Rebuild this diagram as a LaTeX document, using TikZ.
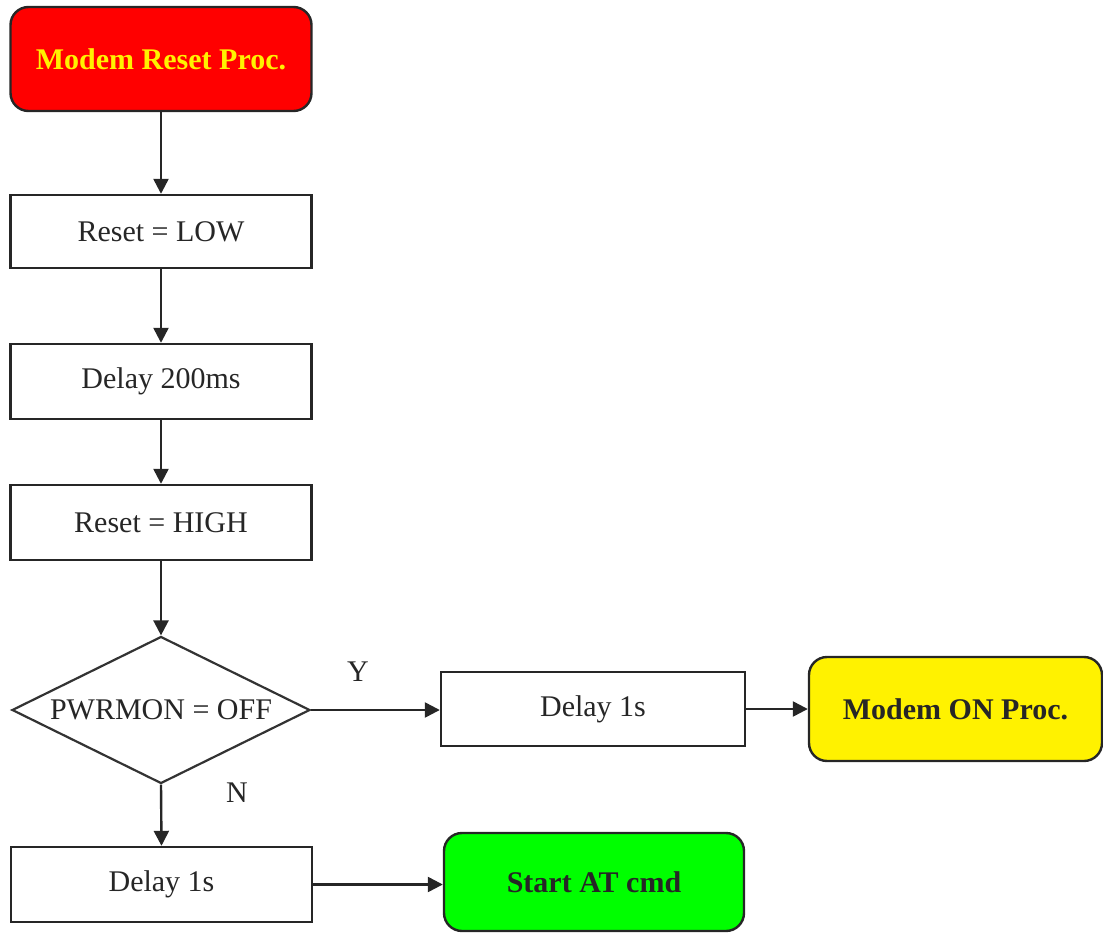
\documentclass[tikz,border=0pt]{standalone}
\usepackage{fontspec}
\setmainfont{Liberation Serif}
\usetikzlibrary{shapes.geometric,arrows.meta}
\begin{document}
\begin{tikzpicture}[x=1pt,y=-1pt,
  box/.style={draw=black!85,line width=2.4pt,rectangle,inner sep=0pt,font=\fontsize{30}{34}\selectfont,text=black!85},
  term/.style={box,rounded corners=18pt,font=\fontsize{30}{34}\selectfont\bfseries},
  dec/.style={draw=black!80,line width=2.2pt,diamond,inner sep=0pt,minimum width=298pt,minimum height=147pt},
  arr/.style={draw=black!85,line width=2.4pt,-{Triangle[length=15pt,width=15pt]}},
  lbl/.style={font=\fontsize{30}{34}\selectfont,text=black!85}]
\useasboundingbox (0,0) rectangle (1103,933);
\node[term,fill=red,text=yellow,minimum width=301pt,minimum height=104pt] (start) at (161,59) {Modem Reset Proc.};
\node[box,minimum width=301pt,minimum height=73pt] (low) at (161,231.5) {Reset = LOW};
\node[box,minimum width=301pt,minimum height=75pt] (d200) at (161,381.5) {Delay 200ms};
\node[box,minimum width=301pt,minimum height=75pt] (high) at (161,522.5) {Reset = HIGH};
\node[dec,label={[lbl]center:PWRMON = OFF}] (q) at (161,710) {};
\node[box,minimum width=304pt,minimum height=74pt] (dr) at (593,709) {Delay 1s};
\node[term,fill=yellow,minimum width=293pt,minimum height=104pt] (on) at (955.5,709) {Modem ON Proc.};
\node[box,minimum width=301pt,minimum height=75pt] (db) at (161.5,884.5) {Delay 1s};
\node[term,fill=green,minimum width=300pt,minimum height=98pt] (at) at (594,882) {Start AT cmd};
\node[lbl] (y) at (358,672) {Y};
\node[lbl] (n) at (237,793) {N};
\draw[arr] (start) -- (low);
\draw[arr] (low) -- (d200);
\draw[arr] (d200) -- (high);
\draw[arr] (high) -- (q.north);
\draw[arr] (q.east) -- (q.east -| dr.west);
\draw[arr] (dr.east) -- (dr.east -| on.west);
\draw[arr] (q.south) -- (db.north);
\draw[arr] (db.east) -- (db.east -| at.west);
\end{tikzpicture}
\end{document}
